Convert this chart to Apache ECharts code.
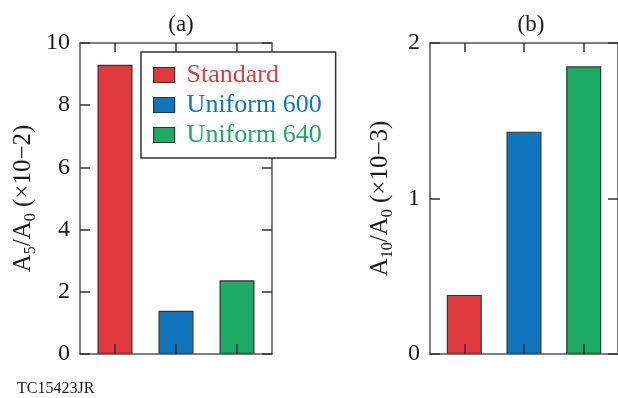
<!DOCTYPE html>
<html>
<head>
<meta charset="utf-8">
<script src="https://cdn.jsdelivr.net/npm/echarts@6/dist/echarts.min.js"></script>
<style>
html,body{margin:0;padding:0;background:#fff;}
#c{width:618px;height:398px;}
</style>
</head>
<body>
<div id="c"></div>
<script>
// ---- data ----
var seriesNames = ['Standard', 'Uniform 600', 'Uniform 640'];
var seriesColors = ['#E03A3E', '#1175BE', '#1EAA64'];
var valuesA = [9.3, 1.39, 2.37];    // A5/A0 (x10^-2)
var valuesB = [0.38, 1.43, 1.85];   // A10/A0 (x10^-3)
var ticksA = [0, 2, 4, 6, 8, 10];
var ticksB = [0, 1, 2];
var panelTitles = ['(a)', '(b)'];
var footer = 'TC15423JR';

var SERIF = '"Liberation Serif", "DejaVu Serif", serif';
var AX = '#555';
var TXT = '#1a1a1a';

var chart = echarts.init(document.getElementById('c'), null, {renderer: 'canvas'});

function nameRich() {
  return {
    fontFamily: SERIF, fontSize: 25, color: TXT,
    rich: {
      r: {fontFamily: SERIF, fontSize: 25, color: TXT, lineHeight: 28, verticalAlign: 'top'},
      s: {fontFamily: SERIF, fontSize: 16, color: TXT, lineHeight: 14, verticalAlign: 'bottom'}
    }
  };
}

function xAxes(gi) {
  var tick = {show: true, inside: true, length: 10, customValues: [0, 1, 2], lineStyle: {color: '#333', width: 1.5}};
  var common = {
    type: 'value', gridIndex: gi, min: -0.574, max: 2.574,
    axisLine: {show: true, onZero: false, lineStyle: {color: AX, width: 1.5}},
    axisTick: tick,
    axisLabel: {show: false},
    splitLine: {show: false},
    z: 5
  };
  return [
    Object.assign({}, common, {position: 'bottom'}),
    Object.assign({}, common, {position: 'top', axisTick: Object.assign({}, tick, {length: 9})})
  ];
}

function yAxes(gi, ticks, name, gap) {
  var mx = ticks[ticks.length - 1];
  var itv = ticks[1] - ticks[0];
  return [
    {
      type: 'value', gridIndex: gi, position: 'left', min: ticks[0], max: mx, interval: itv,
      axisLine: {show: true, onZero: false, lineStyle: {color: AX, width: 1.5}},
      axisTick: {show: true, inside: true, length: 10, lineStyle: {color: '#333', width: 1.5}},
      axisLabel: {show: true, fontFamily: SERIF, fontSize: 24, color: TXT, margin: 10},
      splitLine: {show: false},
      name: name, nameLocation: 'middle', nameGap: gap, nameRotate: 90,
      nameTextStyle: nameRich(),
      z: 5
    },
    {
      type: 'value', gridIndex: gi, position: 'right', min: ticks[0], max: mx, interval: itv,
      axisLine: {show: true, onZero: false, lineStyle: {color: AX, width: 1.5}},
      axisTick: {show: true, inside: true, length: 10, lineStyle: {color: '#333', width: 1.5}},
      axisLabel: {show: false},
      splitLine: {show: false},
      z: 5
    }
  ];
}

var series = [];
[valuesA, valuesB].forEach(function (vals, gi) {
  vals.forEach(function (v, i) {
    series.push({
      type: 'bar', name: seriesNames[i],
      xAxisIndex: gi * 2, yAxisIndex: gi * 2,
      barWidth: 35, barGap: '-100%',
      data: [[i, v]],
      itemStyle: {color: seriesColors[i], borderColor: '#333', borderWidth: 1.2},
      emphasis: {disabled: true},
      animation: false
    });
  });
});

var option = {
  animation: false,
  backgroundColor: '#fff',
  grid: [
    {left: 80, top: 43, width: 192, height: 311},
    {left: 430, top: 43, width: 192, height: 311}
  ],
  xAxis: xAxes(0).concat(xAxes(1)),
  yAxis: yAxes(0, ticksA, '{r|A}{s|5}{r|/A}{s|0}{r| (×10−2)}', 41)
    .concat(yAxes(1, ticksB, '{r|A}{s|10}{r|/A}{s|0}{r| (×10−3)}', 34)),
  title: [
    {text: panelTitles[0], left: 176, top: 8, textAlign: 'center',
     textStyle: {fontFamily: SERIF, fontSize: 23, fontWeight: 'normal', color: TXT}},
    {text: panelTitles[1], left: 526, top: 8, textAlign: 'center',
     textStyle: {fontFamily: SERIF, fontSize: 23, fontWeight: 'normal', color: TXT}}
  ],
  legend: {
    orient: 'vertical', left: 141, top: 52,
    padding: [10, 14, 10, 12],
    itemWidth: 21, itemHeight: 15, itemGap: 4,
    backgroundColor: '#fff', borderColor: '#333', borderWidth: 1.5,
    selectedMode: false,
    icon: 'rect',
    itemStyle: {borderColor: '#333', borderWidth: 1.2},
    textStyle: {fontFamily: SERIF, fontSize: 26, padding: [0, 0, 0, 7]},
    data: seriesNames.map(function (n, i) {
      return {name: n, textStyle: {color: seriesColors[i]}};
    }),
    z: 20
  },
  graphic: [
    {type: 'text', left: 17, top: 381,
     style: {text: footer, fontFamily: SERIF, fontSize: 16, fill: TXT}}
  ],
  series: series
};
chart.setOption(option);
</script>
</body>
</html>
